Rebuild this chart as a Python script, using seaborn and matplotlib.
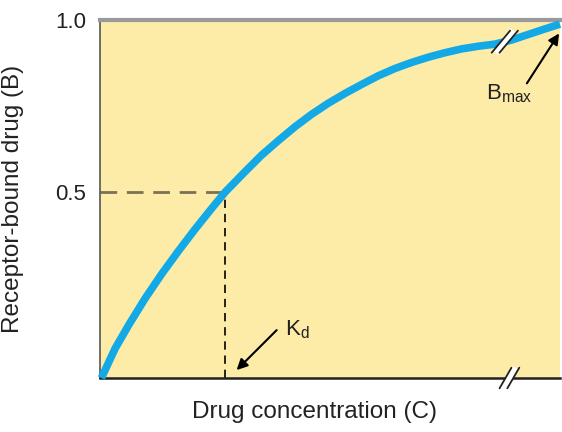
import numpy as np
import pandas as pd
import matplotlib
matplotlib.use("Agg")
import matplotlib.pyplot as plt
import seaborn as sns

# curve (C as fraction of axis, B bound fraction)
conc = [0.003, 0.033, 0.062, 0.098, 0.134, 0.170, 0.207, 0.243, 0.272,
        0.315, 0.351, 0.388, 0.424, 0.460, 0.496, 0.533, 0.569, 0.605,
        0.641, 0.678, 0.714, 0.750, 0.786, 0.823, 0.859, 0.895, 0.931,
        0.967, 1.0]
bound = [-0.04, 0.046, 0.113, 0.191, 0.262, 0.328, 0.393, 0.453, 0.5,
         0.559, 0.607, 0.650, 0.690, 0.726, 0.758, 0.787, 0.813, 0.838,
         0.859, 0.877, 0.892, 0.905, 0.916, 0.924, 0.930, 0.942, 0.958,
         0.974, 0.988]
kd = 0.272
half = 0.5
bmax = 1.0
y_ticks = [0.5, 1.0]
y_ticklabels = ["0.5", "1.0"]
break_c = 0.880

df = pd.DataFrame({"C": conc, "B": bound})

sns.set_style("white")
plt.rcParams["font.family"] = ["Liberation Sans", "DejaVu Sans"]
plt.rcParams["mathtext.fontset"] = "custom"
plt.rcParams["mathtext.rm"] = "Liberation Sans"
plt.rcParams["mathtext.it"] = "Liberation Sans"

fig = plt.figure(figsize=(5.62, 4.32), dpi=100)
ax = fig.add_axes([100 / 562, 54 / 432, 460 / 562, 358 / 432])
ax.set_facecolor("#fdeca8")

# dashed guides to Kd
ax.plot([0, kd], [half, half], color="#7a7255", lw=2, dashes=(6, 3.5))
ax.plot([kd, kd], [-0.04, half], color="black", lw=1.2, dashes=(5, 3.5))

sns.lineplot(data=df, x="C", y="B", ax=ax, color="#12a9e6", lw=5.5,
             solid_capstyle="butt", solid_joinstyle="round",
             clip_on=False, zorder=3)

ax.set_xlim(0, 1)
ax.set_ylim(-0.04, bmax)
ax.set_xticks([])
ax.set_yticks(y_ticks)
ax.set_yticklabels(y_ticklabels)
ax.tick_params(axis="y", length=0, pad=10, labelsize=16, labelcolor="#222222")

ax.spines["right"].set_visible(False)
ax.spines["top"].set_color("#9a9a9a")
ax.spines["top"].set_linewidth(3)
ax.spines["left"].set_color("#555555")
ax.spines["left"].set_linewidth(1.2)
ax.spines["bottom"].set_color("#222222")
ax.spines["bottom"].set_linewidth(1.8)

ax.set_xlabel("Drug concentration (C)", fontsize=17.5, color="#222222")
ax.set_ylabel("Receptor-bound drug (B)", fontsize=17.5, color="#222222")
ax.xaxis.set_label_coords(0.467, -0.065)
ax.yaxis.set_label_coords(-0.165, 0.5)


def break_mark(x, y, gap=0.017, w=0.013, h=0.03):
    # white band with two dark slashes
    ax.plot([x - w, x + w], [y - h, y + h], color="white", lw=5,
            clip_on=False, zorder=5, solid_capstyle="butt")
    for dx in (-gap / 2, gap / 2):
        ax.plot([x - w + dx, x + w + dx], [y - h, y + h], color="#222222",
                lw=1.3, clip_on=False, zorder=6)


break_mark(break_c, np.interp(break_c, conc, bound), w=0.02, h=0.032)
break_mark(0.89, -0.04, w=0.013, h=0.03)

arrow = dict(arrowstyle="-|>", color="black", lw=1.5, mutation_scale=16,
             shrinkA=0, shrinkB=0)
ax.text(0.402, 0.084, r"$\mathrm{K_d}$", fontsize=16, color="#222222",
        va="baseline")
ax.annotate("", xy=(0.297, -0.017), xytext=(0.384, 0.099), arrowprops=arrow)
ax.text(0.84, 0.77, r"$\mathrm{B_{max}}$", fontsize=16, color="#222222",
        va="baseline")
ax.annotate("", xy=(0.998, 0.961), xytext=(0.928, 0.816), arrowprops=arrow)

fig.savefig("out.png", dpi=100)
